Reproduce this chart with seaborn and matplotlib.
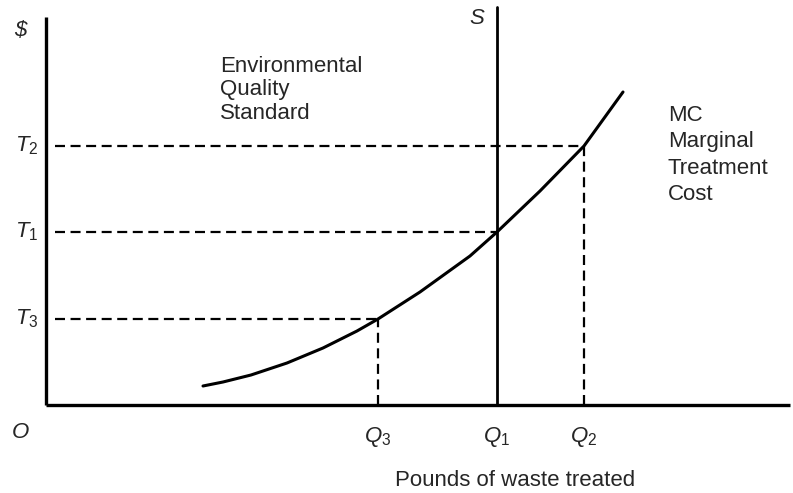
import matplotlib
matplotlib.use("Agg")
import matplotlib.pyplot as plt
import seaborn as sns
import pandas as pd

# marginal treatment cost curve (origin at O)
mc_q = [157, 177, 205, 241, 277, 311, 332, 374, 424, 451, 494, 538, 577]
mc_cost = [19, 23, 30, 42, 57, 74, 86, 113, 149, 173, 214, 259, 313]

# reference quantities and their treatment costs
q_labels = ["$Q_3$", "$Q_1$", "$Q_2$"]
q_values = [332, 451, 538]
t_labels = ["$T_3$", "$T_1$", "$T_2$"]
t_values = [86, 173, 259]

standard_q = 451  # S line
axis_top = 388
axis_right = 744

sns.set_theme(style="white")
plt.rcParams["font.family"] = ["Liberation Sans", "DejaVu Sans"]
plt.rcParams["mathtext.fontset"] = "custom"
plt.rcParams["mathtext.rm"] = "Liberation Sans"
plt.rcParams["mathtext.it"] = "Liberation Sans:italic"

fig = plt.figure(figsize=(7.93, 4.93), dpi=100)
ax = fig.add_axes([0, 0, 1, 1])
ax.set_xlim(-46, 747)
ax.set_ylim(-88, 405)
ax.axis("off")

df = pd.DataFrame({"q": mc_q, "cost": mc_cost})
sns.lineplot(data=df, x="q", y="cost", ax=ax, color="black", lw=2.2)

# axes
ax.plot([0, 0], [0, axis_top], color="black", lw=2.4, solid_capstyle="butt")
ax.plot([0, axis_right], [0, 0], color="black", lw=2.4, solid_capstyle="butt")
# environmental quality standard
ax.plot([standard_q, standard_q], [0, 398], color="black", lw=2.0)

# dashed guides
for q, t in zip(q_values, t_values):
    ax.plot([9, q], [t, t], color="black", lw=1.6, ls=(0, (4.5, 2.5)))
    if q != standard_q:
        ax.plot([q, q], [0, t], color="black", lw=1.6, ls=(0, (4.5, 2.5)))

fs = 16
for lab, q in zip(q_labels, q_values):
    ax.text(q, -32, lab, ha="center", va="center", fontsize=fs)
for lab, t in zip(t_labels, t_values):
    ax.text(-19, t, lab, ha="center", va="center", fontsize=fs)

ax.text(-26, -28, "O", ha="center", va="center", fontsize=fs, style="italic")
ax.text(-26, 375, "$", ha="center", va="center", fontsize=fs, style="italic")
ax.text(431, 387, "S", ha="center", va="center", fontsize=fs, style="italic")

ax.text(174, 315, "Environmental\nQuality\nStandard", ha="left", va="center",
        fontsize=fs, linespacing=1.15)
ax.text(622, 250, "MC\nMarginal\nTreatment\nCost", ha="left", va="center",
        fontsize=fs, linespacing=1.35)
ax.text(469, -75, "Pounds of waste treated", ha="center", va="center", fontsize=fs)

fig.savefig("out.png", dpi=100)
